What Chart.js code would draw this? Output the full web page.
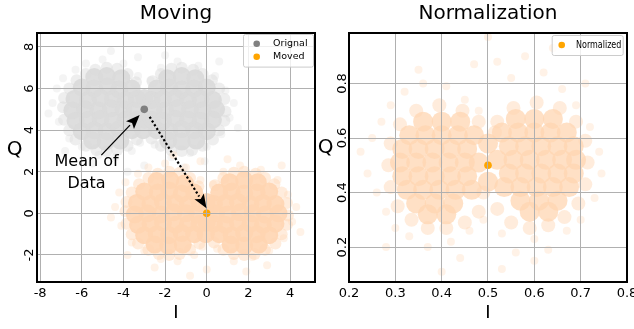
<!DOCTYPE html>
<html lang="en">
<head>
<meta charset="UTF-8">
<title>Moving / Normalization</title>
<script src="https://cdn.jsdelivr.net/npm/chart.js"></script>
<style>
  body { margin: 0; background: #fff; width: 634px; height: 329px; overflow: hidden; position: relative; }
  canvas { position: absolute; top: 0; }
  #moveChart { left: 0; }
  #normChart { left: 317px; }
</style>
</head>
<body>
<canvas id="moveChart" width="317" height="329"></canvas>
<canvas id="normChart" width="317" height="329"></canvas>
<script>
const FONT = "'DejaVu Sans', 'Liberation Sans', sans-serif";

// ---- Moving (left panel) ----
const movingXTicks = [-8, -6, -4, -2, 0, 2, 4];
const movingYTicks = [-2, 0, 2, 4, 6, 8];
const originalMean = [[-3, 5]];
const movedMean = [[0, 0]];

// dense part of the grey cloud
const originalCore = [
  [-5.4,6.55],[-4.8,6.6],[-4.1,6.5],
  [-6.0,6.05],[-5.4,6.0],[-4.75,6.1],[-4.2,5.95],[-3.6,6.0],
  [-6.35,5.5],[-5.7,5.45],[-5.1,5.55],[-4.5,5.5],[-3.9,5.45],[-3.35,5.5],
  [-6.45,4.95],[-5.85,5.0],[-5.2,4.95],[-4.6,5.05],[-4.0,5.0],[-3.45,4.95],
  [-6.3,4.45],[-5.7,4.5],[-5.1,4.55],[-4.5,4.45],[-3.9,4.5],[-3.35,4.5],
  [-6.0,3.95],[-5.4,4.0],[-4.8,3.95],[-4.2,4.05],[-3.6,4.0],
  [-5.5,3.5],[-4.85,3.45],[-4.15,3.5],
  [-1.9,6.5],[-1.2,6.6],[-0.55,6.5],
  [-2.4,6.0],[-1.8,6.05],[-1.2,5.95],[-0.6,6.0],[0.0,6.05],
  [-2.65,5.45],[-2.1,5.5],[-1.5,5.55],[-0.9,5.45],[-0.3,5.5],[0.3,5.45],
  [-2.55,5.0],[-2.0,4.95],[-1.4,5.05],[-0.8,5.0],[-0.2,4.95],[0.45,5.0],
  [-2.65,4.5],[-2.1,4.45],[-1.5,4.55],[-0.9,4.5],[-0.3,4.45],[0.3,4.5],
  [-2.4,4.0],[-1.8,3.95],[-1.2,4.05],[-0.6,4.0],[0.0,3.95],
  [-1.85,3.5],[-1.2,3.45],[-0.5,3.5],
  [-3.0,5.55],[-3.0,4.5],[-3.05,4.0]
];
// softer ring round the grey core
const originalHalo = [
  [-3.8,6.7],[-4.8,7.0],[-5.8,6.7],[-6.6,6.0],[-6.9,5.1],[-6.6,4.0],[-5.8,3.25],[-4.8,3.0],
  [-3.8,3.25],[-4.3,6.95],[-5.35,6.9],[-6.25,6.4],[-6.85,5.55],[-6.85,4.5],[-6.3,3.55],[-5.3,3.05],
  [-4.3,3.05],[-3.4,6.3],[-3.35,3.55],
  [-2.2,6.7],[-1.2,7.0],[-0.2,6.7],[0.6,6.0],[0.9,4.9],[0.6,4.0],[-0.2,3.25],[-1.2,3.0],
  [-2.2,3.25],[-1.7,6.95],[-0.65,6.9],[0.25,6.4],[0.85,5.5],[0.85,4.45],[0.3,3.55],[-0.7,3.05],
  [-1.7,3.05],[-2.6,6.35],[-2.65,3.6]
];
// scattered grey points around the edge
const originalSparse = [
  [-7.4,5.3],[-7.1,4.4],[-7.2,6.0],[-6.9,6.5],[-6.6,3.6],[-6.3,6.9],[-6.0,3.2],[-5.8,7.2],
  [-5.2,2.8],[-5.0,7.4],[-4.4,2.7],[-4.0,7.2],[-3.6,3.0],[-3.3,6.6],[-3.2,3.4],[-2.7,6.4],
  [-2.5,3.3],[-2.2,7.0],[-1.7,2.7],[-1.4,7.3],[-0.8,2.9],[-0.4,7.1],[0.0,3.2],[0.4,6.6],
  [0.7,3.8],[0.9,5.9],[1.1,4.6],[1.3,5.3],[1.5,4.1],[-7.6,4.8],[-5.5,2.4],[-3.0,2.3],
  [-1.1,2.2],[-4.6,7.8],[-2.0,7.6],[-3.3,7.5],[0.6,7.3],[-6.8,3.0],[-0.1,2.5],[-3.8,2.0]
];
// dense part of the orange cloud
const movedCore = [
  [-2.4,1.55],[-1.75,1.6],[-1.05,1.45],
  [-3.0,1.05],[-2.35,1.0],[-1.8,1.1],[-1.2,0.95],[-0.6,1.0],
  [-3.35,0.5],[-2.7,0.45],[-2.1,0.55],[-1.5,0.5],[-0.9,0.45],[-0.35,0.5],
  [-3.45,-0.05],[-2.85,0.0],[-2.2,-0.05],[-1.6,0.05],[-1.0,0.0],[-0.45,-0.05],
  [-3.3,-0.55],[-2.7,-0.5],[-2.1,-0.45],[-1.5,-0.55],[-0.9,-0.5],[-0.35,-0.5],
  [-3.0,-1.05],[-2.4,-1.0],[-1.8,-1.05],[-1.2,-0.95],[-0.6,-1.0],
  [-2.5,-1.5],[-1.85,-1.55],[-1.15,-1.5],
  [1.1,1.5],[1.8,1.6],[2.45,1.5],
  [0.6,1.0],[1.2,1.05],[1.8,0.95],[2.4,1.0],[3.0,1.05],
  [0.35,0.45],[0.9,0.5],[1.5,0.55],[2.1,0.45],[2.7,0.5],[3.3,0.45],
  [0.45,0.0],[1.0,-0.05],[1.6,0.05],[2.2,0.0],[2.8,-0.05],[3.45,0.0],
  [0.35,-0.5],[0.9,-0.55],[1.5,-0.45],[2.1,-0.5],[2.7,-0.55],[3.3,-0.5],
  [0.6,-1.0],[1.2,-1.05],[1.8,-0.95],[2.4,-1.0],[3.0,-1.05],
  [1.15,-1.5],[1.8,-1.55],[2.5,-1.5],
  [0.0,0.55],[0.0,-0.45],[-0.05,-1.0]
];
const movedHalo = [
  [-0.8,1.7],[-1.8,2.0],[-2.8,1.7],[-3.6,1.0],[-3.9,0.1],[-3.6,-1.0],[-2.8,-1.75],[-1.8,-2.0],
  [-0.8,-1.75],[-1.3,1.95],[-2.35,1.9],[-3.25,1.4],[-3.85,0.55],[-3.85,-0.5],[-3.3,-1.45],[-2.3,-1.95],
  [-1.3,-1.95],[-0.4,1.3],[-0.35,-1.45],
  [0.8,1.7],[1.8,2.0],[2.8,1.7],[3.6,1.0],[3.9,-0.1],[3.6,-1.0],[2.8,-1.75],[1.8,-2.0],
  [0.8,-1.75],[1.3,1.95],[2.35,1.9],[3.25,1.4],[3.85,0.5],[3.85,-0.55],[3.3,-1.45],[2.3,-1.95],
  [1.3,-1.95],[0.4,1.35],[0.35,-1.4]
];
const movedSparse = [
  [-4.4,0.3],[-4.1,-0.6],[-4.2,1.0],[-3.9,1.5],[-3.6,-1.4],[-3.3,1.9],[-3.0,-1.8],[-2.8,2.2],
  [-2.2,-2.2],[-2.0,2.4],[-1.4,-2.3],[-1.0,2.2],[-0.6,-2.0],[-0.3,1.6],[-0.2,-1.6],[0.3,1.4],
  [0.5,-1.7],[0.8,2.0],[1.3,-2.3],[1.6,2.3],[2.2,-2.1],[2.6,2.1],[3.0,-1.8],[3.4,1.6],
  [3.7,-1.2],[3.9,0.9],[4.1,-0.4],[4.3,0.3],[4.5,-0.9],[-4.6,-0.2],[-2.5,-2.6],[0.0,-2.7],
  [1.9,-2.8],[-1.6,2.8],[1.0,2.6],[-0.3,2.5],[3.6,2.3],[-3.8,-2.0],[2.9,-2.5],[-0.8,-3.0]
];

// annotation on the left panel (data coordinates)
const meanLabel = ['Mean of', 'Data'];
const meanLabelPos = [[-5.77, 2.26], [-5.77, 1.22]];
const meanArrow = [[-5.06, 2.8], [-3.22, 4.73]];
const moveArrow = [[-2.74, 4.64], [-0.01, 0.24]];

// ---- Normalization (right panel) ----
const normXTicks = [0.2, 0.3, 0.4, 0.5, 0.6, 0.7, 0.8];
const normYTicks = [0.2, 0.4, 0.6, 0.8];
const normalizedMean = [[0.5, 0.5]];
const normalizedCore = [
  [0.36,0.66],[0.40,0.66],[0.44,0.66],
  [0.33,0.61],[0.365,0.61],[0.40,0.61],[0.435,0.61],[0.47,0.61],
  [0.315,0.56],[0.35,0.56],[0.385,0.56],[0.42,0.56],[0.455,0.56],
  [0.31,0.51],[0.345,0.51],[0.38,0.51],[0.415,0.51],[0.45,0.51],[0.48,0.51],
  [0.315,0.46],[0.35,0.46],[0.385,0.46],[0.42,0.46],[0.455,0.46],
  [0.325,0.41],[0.36,0.41],[0.395,0.41],[0.43,0.41],[0.465,0.41],
  [0.345,0.36],[0.385,0.36],[0.425,0.36],
  [0.37,0.32],[0.41,0.32],
  [0.56,0.67],[0.60,0.67],[0.64,0.67],
  [0.53,0.62],[0.565,0.62],[0.60,0.62],[0.635,0.62],[0.67,0.62],
  [0.545,0.57],[0.58,0.57],[0.615,0.57],[0.65,0.57],[0.685,0.57],
  [0.52,0.52],[0.555,0.52],[0.59,0.52],[0.625,0.52],[0.66,0.52],[0.69,0.52],
  [0.545,0.47],[0.58,0.47],[0.615,0.47],[0.65,0.47],[0.685,0.47],
  [0.535,0.42],[0.57,0.42],[0.605,0.42],[0.64,0.42],[0.675,0.42],
  [0.57,0.37],[0.61,0.37],[0.65,0.37],
  [0.59,0.33],[0.63,0.33],
  [0.50,0.58],[0.50,0.44]
];
const normalizedHalo = [
  [0.395,0.72],[0.345,0.70],[0.445,0.70],[0.31,0.65],[0.48,0.66],[0.29,0.58],[0.285,0.5],[0.29,0.42],
  [0.305,0.35],[0.335,0.3],[0.37,0.27],[0.41,0.27],[0.45,0.29],[0.48,0.33],[0.49,0.4],
  [0.605,0.73],[0.555,0.71],[0.655,0.71],[0.52,0.66],[0.69,0.66],[0.71,0.59],[0.715,0.51],[0.71,0.43],
  [0.695,0.36],[0.665,0.31],[0.63,0.28],[0.59,0.27],[0.55,0.29],[0.52,0.34],[0.515,0.62]
];
const normalizedSparse = [
  [0.225,0.55],[0.24,0.47],[0.25,0.6],[0.26,0.4],[0.27,0.66],[0.28,0.33],[0.29,0.72],[0.3,0.27],
  [0.32,0.77],[0.33,0.24],[0.36,0.8],[0.37,0.2],[0.41,0.79],[0.42,0.22],[0.45,0.74],[0.46,0.26],
  [0.48,0.7],[0.49,0.3],[0.52,0.88],[0.53,0.25],[0.55,0.82],[0.56,0.18],[0.58,0.9],[0.6,0.23],
  [0.62,0.84],[0.63,0.19],[0.66,0.78],[0.67,0.26],[0.69,0.72],[0.7,0.3],[0.72,0.64],[0.73,0.38],
  [0.74,0.55],[0.745,0.47],[0.5,0.97],[0.53,0.12],[0.4,0.11],[0.35,0.85],[0.64,0.93],[0.44,0.16],
  [0.28,0.2],[0.71,0.8],[0.47,0.87],[0.6,0.15]
];

const GREY = 'rgba(218,218,218,0.9)';
const GREY_SOFT = 'rgba(218,218,218,0.45)';
const GREY_FAINT = 'rgba(218,218,218,0.3)';
const PEACH = 'rgba(255,213,177,0.9)';
const PEACH_SOFT = 'rgba(255,213,177,0.45)';
const PEACH_FAINT = 'rgba(255,213,177,0.3)';

const toXY = arr => arr.map(p => ({ x: p[0], y: p[1] }));

Chart.defaults.font.family = FONT;
Chart.defaults.color = '#000';

// Chart.js paints dataset 0 last, so the mean markers go first in each list
function cloud(data, color, radius) {
  return { data: toXY(data), backgroundColor: color, borderWidth: 0, pointRadius: radius };
}
function meanPoint(label, data, color) {
  return { label: label, legend: true, data: toXY(data), backgroundColor: color, borderWidth: 0, pointRadius: 3.8 };
}

function drawArrow(ctx, xs, ys, pts, dotted) {
  const x0 = xs.getPixelForValue(pts[0][0]), y0 = ys.getPixelForValue(pts[0][1]);
  const x1 = xs.getPixelForValue(pts[1][0]), y1 = ys.getPixelForValue(pts[1][1]);
  const ang = Math.atan2(y1 - y0, x1 - x0);
  const headLen = 14, headW = 5.5;
  const bx = x1 - headLen * Math.cos(ang), by = y1 - headLen * Math.sin(ang);
  ctx.save();
  ctx.strokeStyle = '#000';
  ctx.fillStyle = '#000';
  ctx.lineWidth = dotted ? 2.2 : 1.3;
  if (dotted) ctx.setLineDash([2.2, 2.2]);
  ctx.beginPath(); ctx.moveTo(x0, y0); ctx.lineTo(bx, by); ctx.stroke();
  ctx.setLineDash([]);
  ctx.beginPath();
  ctx.moveTo(x1, y1);
  ctx.lineTo(bx + headW * Math.sin(ang), by - headW * Math.cos(ang));
  ctx.lineTo(bx + 3 * Math.cos(ang), by + 3 * Math.sin(ang));
  ctx.lineTo(bx - headW * Math.sin(ang), by + headW * Math.cos(ang));
  ctx.closePath();
  ctx.fill();
  ctx.restore();
}

// frame, titles, rotated y ticks, the "Q" label and the legend box
const framePlugin = {
  id: 'frame',
  afterDraw(chart, args, o) {
    const ctx = chart.ctx, a = chart.chartArea;
    const xs = chart.scales.x, ys = chart.scales.y;
    ctx.save();

    if (o.arrows) {
      drawArrow(ctx, xs, ys, meanArrow, false);
      drawArrow(ctx, xs, ys, moveArrow, true);
      ctx.fillStyle = '#000';
      ctx.font = '16px ' + FONT;
      ctx.textAlign = 'center';
      ctx.textBaseline = 'alphabetic';
      meanLabel.forEach((t, i) => {
        ctx.fillText(t, xs.getPixelForValue(meanLabelPos[i][0]), ys.getPixelForValue(meanLabelPos[i][1]));
      });
    }

    ctx.strokeStyle = '#000';
    ctx.lineWidth = 2;
    ctx.strokeRect(a.left, a.top, a.right - a.left, a.bottom - a.top);

    ctx.fillStyle = '#000';
    ctx.textAlign = 'center';
    ctx.textBaseline = 'middle';
    ctx.font = '20px ' + FONT;
    ctx.fillText(o.title, (a.left + a.right) / 2, o.titleY);
    ctx.fillText('Q', o.qX, o.qY);

    ctx.font = '13px ' + FONT;
    o.yTicks.forEach(v => {
      ctx.save();
      ctx.translate(o.yTickX, ys.getPixelForValue(v));
      ctx.rotate(-Math.PI / 2);
      ctx.fillText(String(v), 0, 0);
      ctx.restore();
    });

    const lg = o.legend;
    const items = chart.data.datasets.filter(d => d.legend);
    const bx = a.right - lg.right - lg.width, by = a.top + lg.top;
    const bh = lg.pad * 2 + items.length * lg.row;
    ctx.fillStyle = 'rgba(255,255,255,0.8)';
    ctx.strokeStyle = '#cccccc';
    ctx.lineWidth = 1;
    ctx.beginPath();
    if (ctx.roundRect) ctx.roundRect(bx + 0.5, by + 0.5, lg.width, bh, 2);
    else ctx.rect(bx + 0.5, by + 0.5, lg.width, bh);
    ctx.fill(); ctx.stroke();
    items.forEach((d, i) => {
      const cy = by + lg.pad + lg.row * (i + 0.5);
      ctx.fillStyle = d.backgroundColor;
      ctx.beginPath(); ctx.arc(bx + lg.marker, cy, 3.3, 0, Math.PI * 2); ctx.fill();
      ctx.fillStyle = '#000';
      ctx.font = lg.font + 'px ' + FONT;
      ctx.textAlign = 'left';
      ctx.save();
      ctx.translate(bx + lg.text, cy);
      ctx.scale(lg.squeeze, 1);
      ctx.fillText(d.label, 0, 0);
      ctx.restore();
    });
    ctx.restore();
  }
};

function scatterOptions(xMin, xMax, yMin, yMax, xTicks, yTicks, yWidth, padRight, frame) {
  return {
    responsive: false,
    animation: false,
    layout: { autoPadding: false, padding: { top: 33, left: 0, right: padRight, bottom: 0 } },
    plugins: { legend: { display: false }, tooltip: { enabled: false }, frame: frame },
    scales: {
      x: {
        type: 'linear', min: xMin, max: xMax,
        afterBuildTicks: s => { s.ticks = xTicks.map(v => ({ value: v })); },
        afterFit: s => { s.height = 47; s.paddingLeft = 0; s.paddingRight = 0; },
        grid: { color: '#b0b0b0', lineWidth: 1, drawTicks: false, z: 1 },
        border: { display: false },
        ticks: { font: { size: 13 }, padding: 4, autoSkip: false, maxRotation: 0, color: '#000' },
        title: { display: true, text: 'I', font: { size: 18 }, padding: { top: 0, bottom: 5 }, color: '#000' }
      },
      y: {
        type: 'linear', min: yMin, max: yMax,
        afterBuildTicks: s => { s.ticks = yTicks.map(v => ({ value: v })); },
        afterFit: s => { s.width = yWidth; s.paddingTop = 0; s.paddingBottom = 0; },
        grid: { color: '#b0b0b0', lineWidth: 1, drawTicks: false, z: 1 },
        border: { display: false },
        ticks: { display: false }
      }
    }
  };
}

new Chart(document.getElementById('moveChart'), {
  type: 'scatter',
  data: {
    datasets: [
      meanPoint('Orignal', originalMean, '#808080'),
      meanPoint('Moved', movedMean, '#ffa500'),
      cloud(movedCore, PEACH, 9),
      cloud(movedHalo, PEACH_SOFT, 6),
      cloud(movedSparse, PEACH_FAINT, 4),
      cloud(originalCore, GREY, 9),
      cloud(originalHalo, GREY_SOFT, 6),
      cloud(originalSparse, GREY_FAINT, 4)
    ]
  },
  options: scatterOptions(-8.15, 5.2, -3.3, 8.67, movingXTicks, movingYTicks, 37, 2, {
    title: 'Moving', titleY: 14, qX: 14.5, qY: 150, yTickX: 29.5, yTicks: movingYTicks, arrows: true,
    legend: { width: 70, right: 2, top: 1, pad: 3.3, row: 13, marker: 13.7, text: 30, font: 9.5, squeeze: 1 }
  }),
  plugins: [framePlugin]
});

new Chart(document.getElementById('normChart'), {
  type: 'scatter',
  data: {
    datasets: [
      meanPoint('Normalized', normalizedMean, '#ffa500'),
      cloud(normalizedCore, 'rgba(255,213,177,0.75)', 10),
      cloud(normalizedHalo, PEACH_SOFT, 7),
      cloud(normalizedSparse, PEACH_FAINT, 4)
    ]
  },
  options: scatterOptions(0.2, 0.8, 0.072, 0.985, normXTicks, normYTicks, 32, 7, {
    title: 'Normalization', titleY: 14, qX: 8.5, qY: 148, yTickX: 26, yTicks: normYTicks, arrows: false,
    legend: { width: 71, right: 4.3, top: 2, pad: 3.5, row: 13, marker: 10, text: 24.3, font: 10, squeeze: 0.8 }
  }),
  plugins: [framePlugin]
});
</script>
</body>
</html>
